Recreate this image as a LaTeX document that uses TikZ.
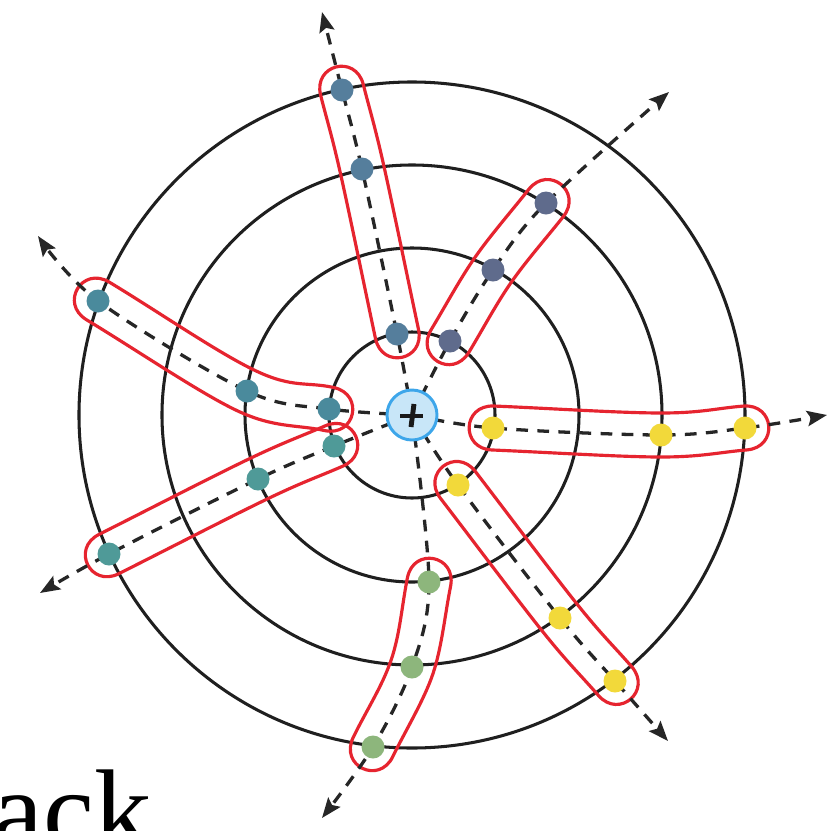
\documentclass[tikz,border=0pt]{standalone}
\usepackage{fontspec}
\setmainfont{Liberation Serif}
\usetikzlibrary{calc,arrows.meta,backgrounds}
\definecolor{cA}{HTML}{557E9C}
\definecolor{cB}{HTML}{5F6B8C}
\definecolor{cY}{HTML}{F2D93A}
\definecolor{cG}{HTML}{8DB67C}
\definecolor{cTa}{HTML}{4A8A9C}
\definecolor{cTb}{HTML}{4F9A98}
\definecolor{sred}{HTML}{E6242F}
\definecolor{hubfill}{HTML}{C8E6F8}
\definecolor{hubline}{HTML}{3DA6EA}
\tikzset{
  ring/.style={draw=black!88, line width=2.6pt},
  ray/.style={draw=black!85, line width=2.8pt, dash pattern=on 10pt off 8pt,
    -{Stealth[length=17pt,width=13pt,inset=3pt]}},
  dot/.style={circle, fill=#1, minimum size=0.69cm, inner sep=0pt},
  hub/.style={circle, draw=hubline, fill=hubfill, line width=2.5pt, minimum size=1.5cm, inner sep=0pt},
  sausage/.style={draw=sred, line width=2.7pt, line cap=round, line join=round},
  lbl/.style={anchor=base west, inner sep=0pt, font=\fontsize{98}{98}\selectfont}
}
\def\sr{0.66cm}
\newcommand{\sausage}[3]{%
  \coordinate (#2x) at ($(#2)+(#3)-(#1)$);
  \coordinate (#1R) at ($(#1)!\sr!-90:(#2)$);
  \coordinate (#1L) at ($(#1)!\sr!90:(#2)$);
  \coordinate (#2R) at ($(#2)!\sr!-90:(#2x)$);
  \coordinate (#2L) at ($(#2)!\sr!90:(#2x)$);
  \coordinate (#3R) at ($(#3)!\sr!90:(#2)$);
  \coordinate (#3L) at ($(#3)!\sr!-90:(#2)$);
  \draw[sausage] (#1L) to[relative,out=-90,in=-90,looseness=1.85] (#1R)
    .. controls ($(#1R)+0.33*(#2)-0.33*(#1)$) and ($(#2R)-0.16*(#3)+0.16*(#1)$) .. (#2R)
    .. controls ($(#2R)+0.16*(#3)-0.16*(#1)$) and ($(#3R)-0.33*(#3)+0.33*(#2)$) .. (#3R)
    to[relative,out=-90,in=-90,looseness=1.85] (#3L)
    .. controls ($(#3L)-0.33*(#3)+0.33*(#2)$) and ($(#2L)+0.16*(#3)-0.16*(#1)$) .. (#2L)
    .. controls ($(#2L)-0.16*(#3)+0.16*(#1)$) and ($(#1L)+0.33*(#2)-0.33*(#1)$) .. (#1L);
}
\begin{document}
\begin{tikzpicture}[x=0.03cm,y=-0.03cm]
\useasboundingbox (0,0) rectangle (831,830);
% hub
\node[hub] (c) at (412,415) {};
\draw[line width=4.2pt, black!90] ($(c)+(-12,1)$) -- ($(c)+(11,1)$);
\draw[line width=4.2pt, black!90] ($(c)+(2,-11)$) -- ($(c)+(-1,12)$);
% dots
\node[dot=cA] (a1) at (397,334) {};
\node[dot=cA] (a2) at (362,169) {};
\node[dot=cA] (a3) at (342,90) {};
\node[dot=cB] (b1) at (450,341) {};
\node[dot=cB] (b2) at (493,270) {};
\node[dot=cB] (b3) at (546,203) {};
\node[dot=cY] (y1) at (493,428) {};
\node[dot=cY] (y2) at (661,435) {};
\node[dot=cY] (y3) at (745,428) {};
\node[dot=cY] (z1) at (458,485) {};
\node[dot=cY] (z2) at (560,618) {};
\node[dot=cY] (z3) at (615,681) {};
\node[dot=cG] (g1) at (429,582) {};
\node[dot=cG] (g2) at (412,667) {};
\node[dot=cG] (g3) at (373,747) {};
\node[dot=cTb] (t1) at (334,446) {};
\node[dot=cTb] (t2) at (258,479) {};
\node[dot=cTb] (t3) at (109,554) {};
\node[dot=cTa] (u1) at (329,409) {};
\node[dot=cTa] (u2) at (247,391) {};
\node[dot=cTa] (u3) at (98,301) {};
% arrow ends
\coordinate (e1) at (322,12);
\coordinate (e2) at (669,92);
\coordinate (e3) at (827,415);
\coordinate (e4) at (668,741);
\coordinate (e5) at (322,818);
\coordinate (e6) at (40,593);
\coordinate (e7) at (38,236);
\begin{scope}[on background layer]
  \fill[white] (0,0) rectangle (831,830);
  \foreach \r in {2.49cm,5.01cm,7.5cm,9.99cm}{\draw[ring] (c.center) circle[radius=\r];}
  \sausage{a1}{a2}{a3}
  \sausage{b1}{b2}{b3}
  \sausage{y1}{y2}{y3}
  \sausage{z1}{z2}{z3}
  \sausage{g1}{g2}{g3}
  \sausage{t1}{t2}{t3}
  \sausage{u1}{u2}{u3}
  \draw[ray] plot[smooth, tension=0.55] coordinates {(c.center) (a1) (a2) (a3) (e1)};
  \draw[ray] plot[smooth, tension=0.55] coordinates {(c.center) (b1) (b2) (b3) (e2)};
  \draw[ray] plot[smooth, tension=0.55] coordinates {(c.center) (y1) (y2) (y3) (e3)};
  \draw[ray] plot[smooth, tension=0.55] coordinates {(c.center) (z1) (z2) (z3) (e4)};
  \draw[ray] plot[smooth, tension=0.55] coordinates {(c.center) (g1) (g2) (g3) (e5)};
  \draw[ray] plot[smooth, tension=0.55] coordinates {(c.center) (t1) (t2) (t3) (e6)};
  \draw[ray] plot[smooth, tension=0.55] coordinates {(c.center) (u1) (u2) (u3) (e7)};
\end{scope}
\node[lbl] (txt) at (-8,849) {ack};
\end{tikzpicture}
\end{document}
